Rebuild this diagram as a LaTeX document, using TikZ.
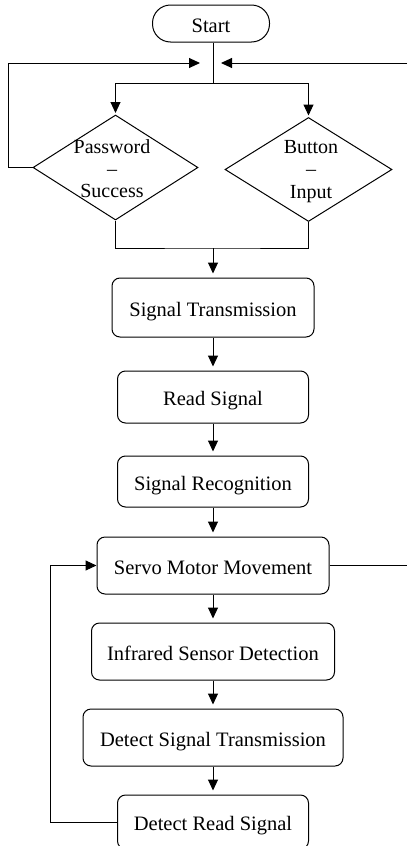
\documentclass[tikz,border=0pt]{standalone}
\usepackage{fontspec}
\setmainfont{Liberation Serif}
\usetikzlibrary{shapes.geometric,arrows.meta}
\begin{document}
\begin{tikzpicture}[x=1pt, y=-1pt, line width=1pt,
  every node/.style={font=\fontsize{20.5}{18}\selectfont},
  proc/.style={draw, rounded corners=8pt, inner sep=0pt,
    text height=17.5pt, text depth=0.5pt},
  terminal/.style={proc, rounded corners=18pt},
  decision/.style={draw, diamond, inner sep=0pt},
  dtext/.style={align=center, inner sep=0pt, anchor=north,
    font=\fontsize{20}{22.3}\selectfont},
  tip/.style={-{Triangle[length=11pt,width=10pt]}},
  arr/.style={tip, shorten >=4pt},
  arrd/.style={tip, shorten >=1.5pt}]

\useasboundingbox (0,0) rectangle (407,846);
\clip (0,0) rectangle (407,846);

% start and the two entry checks
\node[terminal, minimum width=117pt, minimum height=37pt] (start) at (211,23.5) {Start};
\coordinate (split) at (213,83);
\coordinate (merge) at (213,248);
\node[decision, minimum width=165pt, minimum height=105pt] (pw) at (115.5,167.5) {};
\node[dtext] (pwt) at (112,139) {Password\\–\\Success};
\node[decision, minimum width=167pt, minimum height=104pt] (bi) at (308.5,169.5) {};
\node[dtext] (bit) at (311,140) {Button\\–\\Input};

% process chain
\node[proc, minimum width=202pt, minimum height=59pt] (st)  at (213,307.5) {Signal Transmission};
\node[proc, minimum width=191pt, minimum height=52pt] (rs)  at (213,397)   {Read Signal};
\node[proc, minimum width=191pt, minimum height=51pt] (sr)  at (213,481.5) {Signal Recognition};
\node[proc, minimum width=232pt, minimum height=57pt] (smm) at (213,565.5) {Servo Motor Movement};
\node[proc, minimum width=243pt, minimum height=57pt] (isd) at (213,651.5) {Infrared Sensor Detection};
\node[proc, minimum width=260pt, minimum height=57pt] (dst) at (213,737.5) {Detect Signal Transmission};
\node[proc, minimum width=191pt, minimum height=54pt] (drs) at (213,822)   {Detect Read Signal};

% helper points for the loops
\coordinate (inL) at (200,63);
\coordinate (inR) at (221,63);
\coordinate (loopL) at (8,63);
\coordinate (topR) at (407,63);
\coordinate (backX) at (50,566);
\coordinate (outR) at (407,566);

% connectors at the top
\draw (split |- start.south) -- (split);
\draw[arrd] (split) -| (pw.north);
\draw[arrd] (split) -| (bi.north);
\draw[tip] (pw.west) -| (loopL) -- (inL);
\draw[tip] (topR) -- (inR);
\draw (pw.south) |- (merge) -| (bi.south);
\draw[arr] (merge) -- (st.north);

% main chain
\draw[arr] (st.south) -- (rs.north);
\draw[arr] (rs.south) -- (sr.north);
\draw[arr] (sr.south) -- (smm.north);
\draw[arr] (smm.south) -- (isd.north);
\draw[arr] (isd.south) -- (dst.north);
\draw[arr] (dst.south) -- (drs.north);

% feedback and exit
\draw[tip] (drs.west) -- (drs.west -| backX) |- (smm.west);
\draw (smm.east) -- (smm.east -| outR);
\end{tikzpicture}
\end{document}
